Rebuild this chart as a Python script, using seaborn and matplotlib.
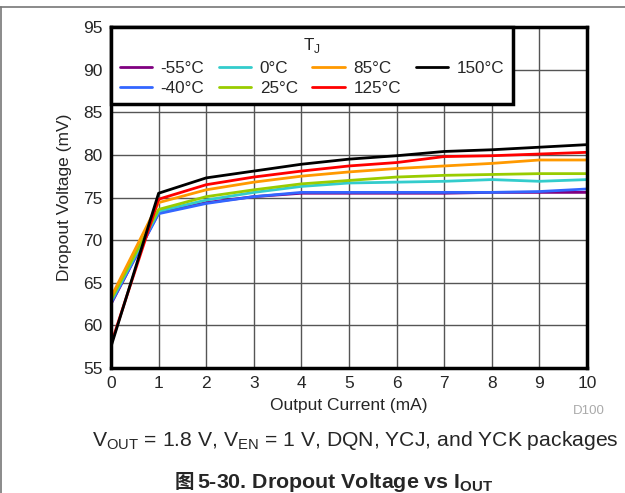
import pandas as pd
import matplotlib
matplotlib.use("Agg")
import matplotlib.pyplot as plt
from matplotlib.lines import Line2D
import seaborn as sns

# Data
current_ma = [0, 1, 2, 3, 4, 5, 6, 7, 8, 9, 10]
temps = ["-55°C", "-40°C", "0°C", "25°C", "85°C", "125°C", "150°C"]
v_m55 = [62.5, 73.2, 74.4, 75.1, 75.5, 75.5, 75.5, 75.5, 75.6, 75.6, 75.6]
v_m40 = [62.6, 73.1, 74.3, 75.1, 75.6, 75.6, 75.6, 75.6, 75.6, 75.7, 76.0]
v_0 = [62.8, 73.4, 74.7, 75.6, 76.3, 76.7, 76.8, 76.9, 77.1, 76.9, 77.1]
v_25 = [63.0, 73.6, 75.1, 75.9, 76.6, 77.0, 77.4, 77.6, 77.7, 77.8, 77.8]
v_85 = [63.3, 74.4, 75.9, 76.8, 77.5, 78.0, 78.4, 78.7, 79.0, 79.4, 79.4]
v_125 = [57.8, 74.8, 76.5, 77.4, 78.1, 78.7, 79.1, 79.8, 79.9, 80.1, 80.3]
v_150 = [57.5, 75.5, 77.3, 78.1, 78.9, 79.5, 79.9, 80.4, 80.6, 80.9, 81.2]
colors = ["#800080", "#3366FF", "#33CCCC", "#99CC00", "#FF9900", "#FF0000", "#000000"]

series = [v_m55, v_m40, v_0, v_25, v_85, v_125, v_150]
df = pd.concat(
    [pd.DataFrame({"Current": current_ma, "Voltage": s, "TJ": t}) for s, t in zip(series, temps)],
    ignore_index=True,
)

sns.set_style("white")
plt.rcParams["font.family"] = ["Liberation Sans", "DejaVu Sans"]
plt.rcParams["mathtext.fontset"] = "custom"
plt.rcParams["mathtext.rm"] = "Liberation Sans"
plt.rcParams["mathtext.bf"] = "Liberation Sans:bold"

W, H = 625, 493
fig = plt.figure(figsize=(W / 100, H / 100), dpi=100)
ax = fig.add_axes([111 / W, 1 - 368 / H, (587 - 111) / W, (368 - 27) / H])

sns.lineplot(
    data=df, x="Current", y="Voltage", hue="TJ", hue_order=temps,
    palette=colors, linewidth=2, ax=ax, legend=False,
)

ax.set_xlim(0, 10)
ax.set_ylim(55, 95)
ax.set_xticks(range(0, 11))
ax.set_yticks(range(55, 96, 5))
ax.grid(True, color="#555555", linewidth=1)
ax.set_axisbelow(True)
for sp in ax.spines.values():
    sp.set_linewidth(2.5)
    sp.set_color("black")
ax.tick_params(length=0, pad=6, labelsize=12.5)
ax.set_xlabel("Output Current (mA)", fontsize=12.5, labelpad=5)
ax.set_ylabel("Dropout Voltage (mV)", fontsize=12.5, labelpad=8)

handles = [Line2D([], [], color=c, linewidth=2) for c in colors]
leg = ax.legend(
    handles, temps, title="T$_\\mathrm{J}$", ncol=4, loc="upper left",
    bbox_to_anchor=(0, 1), fontsize=12.3, title_fontsize=12.3,
    handlelength=1.9, handletextpad=0.5, columnspacing=0.85,
    labelspacing=0.3, borderpad=0.5, fancybox=False, framealpha=1,
    borderaxespad=0,
)
leg._legend_box.sep = 4.5
leg.get_frame().set_edgecolor("black")
leg.get_frame().set_linewidth(2.5)

# annotations below the chart
fig.text(605 / W, 1 - 411 / H, "D100", color="#AAAAAA", fontsize=9.5, ha="right", va="center")
fig.text(92 / W, 1 - 441 / H,
         "V$_\\mathrm{OUT}$ = 1.8 V, V$_\\mathrm{EN}$ = 1 V, DQN, YCJ, and YCK packages",
         fontsize=15.2, ha="left", va="center")
fig.text(175 / W, 1 - 483 / H, "图", family=["Noto Sans CJK SC", "DejaVu Sans"],
         fontsize=14, fontweight="bold", ha="left", va="center")
fig.text(197 / W, 1 - 483 / H, "5-30. Dropout Voltage vs I$_\\mathbf{OUT}$",
         fontsize=15.4, fontweight="bold", ha="left", va="center")

# page frame lines
fig.add_artist(Line2D([0, 1], [1 - 7 / H, 1 - 7 / H], transform=fig.transFigure, color="#777777", linewidth=1.2))
fig.add_artist(Line2D([0.8 / W, 0.8 / W], [0, 1 - 7 / H], transform=fig.transFigure, color="#777777", linewidth=1.2))

fig.savefig("out.png", dpi=100)
